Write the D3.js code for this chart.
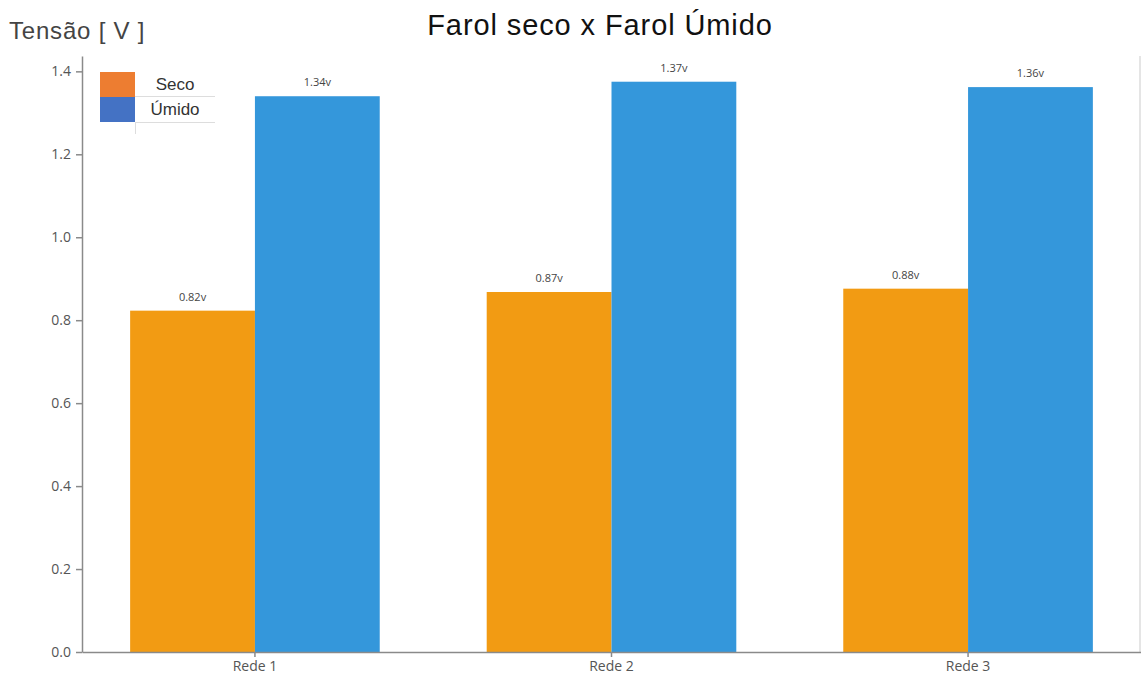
<!DOCTYPE html>
<html>
<head>
<meta charset="utf-8">
<script src="https://cdn.jsdelivr.net/npm/d3@7"></script>
<style>
  body { margin: 0; background: #fff; }
  .axis path, .axis line { stroke: #8a8a8a; stroke-width: 1.5; }
  .axis text { fill: #555; font-family: "Open Sans", sans-serif; font-size: 14px; }
</style>
</head>
<body>
<div id="chart"></div>
<script>
var categories = ["Rede 1", "Rede 2", "Rede 3"];
var series = ["Seco", "Úmido"];
var seco = [0.823, 0.868, 0.876];
var umido = [1.34, 1.375, 1.362];
var labels = { "Seco": ["0.82v", "0.87v", "0.88v"], "Úmido": ["1.34v", "1.37v", "1.36v"] };
var yTicks = [0, 0.2, 0.4, 0.6, 0.8, 1.0, 1.2, 1.4];

var barColors = { "Seco": "#f29b13", "Úmido": "#3497db" };
var legendColors = { "Seco": "#ed7d31", "Úmido": "#4472c4" };

var W = 1141, H = 683;
var margin = { left: 82, right: 0, top: 56, bottom: 31 };
var width = W - margin.left - margin.right,
    height = H - margin.top - margin.bottom;

var svg = d3.select("#chart")
    .append("svg")
    .attr("width", W)
    .attr("height", H);

// title
svg.append("text")
    .attr("x", 600)
    .attr("y", 35)
    .attr("text-anchor", "middle")
    .attr("font-family", "Liberation Sans, Arial, sans-serif")
    .attr("font-size", "29px")
    .attr("letter-spacing", "0.9px")
    .attr("fill", "#111")
    .text("Farol seco x Farol Úmido");

// y label
svg.append("text")
    .attr("x", 9)
    .attr("y", 39)
    .attr("font-family", "Liberation Sans, Arial, sans-serif")
    .attr("font-size", "24px")
    .attr("letter-spacing", "0.8px")
    .attr("fill", "#444")
    .text("Tensão [ V ]");

var g = svg.append("g")
    .attr("transform", "translate(" + margin.left + ", " + margin.top + ")");

var data = categories.map(function(c, i) {
    return { cat: c, "Seco": seco[i], "Úmido": umido[i], i: i };
});

var x = d3.scaleBand()
    .domain(categories)
    .range([0, width])
    .paddingInner(0.3)
    .paddingOuter(0.135);

var xs = d3.scaleBand()
    .domain(series)
    .range([0, x.bandwidth()]);

var y = d3.scaleLinear()
    .domain([0, 1.437])
    .range([height, 0]);

// right spine (light)
g.append("line")
    .attr("x1", width - 1).attr("x2", width - 1)
    .attr("y1", 0).attr("y2", height)
    .attr("stroke", "#dcdcdc")
    .attr("stroke-width", 1.5);

// bars
var groups = g.selectAll(".grp")
    .data(data)
    .enter().append("g")
    .attr("class", "grp")
    .attr("transform", function(d) { return "translate(" + x(d.cat) + ",0)"; });

groups.selectAll("rect")
    .data(function(d) { return series.map(function(s) { return { s: s, v: d[s], i: d.i }; }); })
    .enter().append("rect")
    .attr("x", function(d) { return xs(d.s); })
    .attr("y", function(d) { return y(d.v); })
    .attr("width", xs.bandwidth())
    .attr("height", function(d) { return height - y(d.v); })
    .attr("fill", function(d) { return barColors[d.s]; });

groups.selectAll("text.val")
    .data(function(d) { return series.map(function(s) { return { s: s, v: d[s], i: d.i }; }); })
    .enter().append("text")
    .attr("class", "val")
    .attr("x", function(d) { return xs(d.s) + xs.bandwidth() / 2; })
    .attr("y", function(d) { return y(d.v) - 10; })
    .attr("text-anchor", "middle")
    .attr("font-family", "Open Sans, sans-serif")
    .attr("font-size", "11px")
    .attr("fill", "#444")
    .text(function(d) { return labels[d.s][d.i]; });

// axes
var xAxisCall = d3.axisBottom(x).tickSize(5).tickSizeOuter(0);
g.append("g")
    .attr("class", "axis")
    .attr("transform", "translate(0, " + height + ")")
    .call(xAxisCall)
    .selectAll("text")
    .attr("y", 9)
    .style("font-size", "14px");

var yAxisCall = d3.axisLeft(y)
    .tickValues(yTicks)
    .tickSize(6)
    .tickSizeOuter(0)
    .tickFormat(d3.format(".1f"));
g.append("g")
    .attr("class", "axis")
    .call(yAxisCall)
    .selectAll("text")
    .attr("x", -11);

// legend
var lg = svg.append("g").attr("transform", "translate(100, 72)");
lg.selectAll("rect")
    .data(series)
    .enter().append("rect")
    .attr("x", 0)
    .attr("y", function(d, i) { return i * 25; })
    .attr("width", 35)
    .attr("height", 25)
    .attr("fill", function(d) { return legendColors[d]; });
lg.selectAll("text")
    .data(series)
    .enter().append("text")
    .attr("x", 75)
    .attr("y", function(d, i) { return i * 25 + 18; })
    .attr("text-anchor", "middle")
    .attr("font-family", "Liberation Sans, Arial, sans-serif")
    .attr("font-size", "17px")
    .attr("fill", "#333")
    .text(function(d) { return d; });
lg.append("line").attr("x1", 35).attr("x2", 115).attr("y1", 24.5).attr("y2", 24.5)
    .attr("stroke", "#ddd");
lg.append("line").attr("x1", 35).attr("x2", 115).attr("y1", 50.5).attr("y2", 50.5)
    .attr("stroke", "#ddd");
lg.append("line").attr("x1", 35.5).attr("x2", 35.5).attr("y1", 50).attr("y2", 62)
    .attr("stroke", "#ddd");
</script>
</body>
</html>
